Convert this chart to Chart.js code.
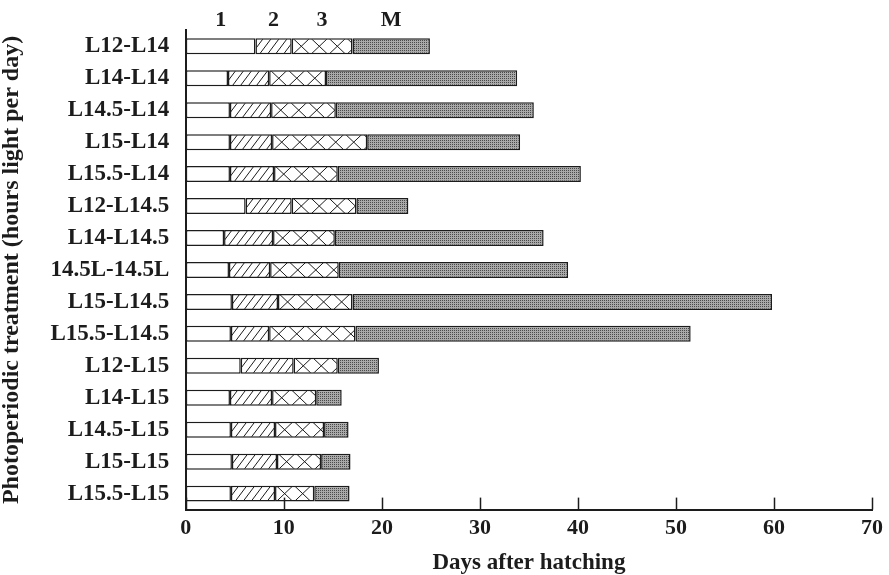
<!DOCTYPE html>
<html>
<head>
<meta charset="utf-8">
<style>
  html, body { margin: 0; padding: 0; background: #fff; }
  #wrap { width: 889px; height: 575px; }
</style>
<script src="https://cdn.jsdelivr.net/npm/chart.js@4/dist/chart.umd.min.js"></script>
</head>
<body>
<div id="wrap"><canvas id="chart" width="889" height="575"></canvas></div>
<script>
// Photoperiodic treatments (hours of light per day before - after transfer)
const treatments = [
  'L12-L14', 'L14-L14', 'L14.5-L14', 'L15-L14', 'L15.5-L14',
  'L12-L14.5', 'L14-L14.5', '14.5L-14.5L', 'L15-L14.5', 'L15.5-L14.5',
  'L12-L15', 'L14-L15', 'L14.5-L15', 'L15-L15', 'L15.5-L15'
];

// Duration (days) of each developmental stage
const instar1 = [7.1, 4.3, 4.5, 4.5, 4.5, 6.1, 3.9, 4.4, 4.7, 4.6, 5.6, 4.5, 4.6, 4.7, 4.6];
const instar2 = [3.7, 4.2, 4.2, 4.3, 4.5, 4.7, 5.0, 4.2, 4.7, 3.9, 5.4, 4.3, 4.5, 4.6, 4.5];
const instar3 = [6.2, 5.8, 6.6, 9.7, 6.5, 6.6, 6.3, 7.0, 7.6, 8.8, 4.5, 4.5, 5.0, 4.5, 4.0];
const stageM  = [7.9, 19.5, 20.2, 15.6, 24.8, 5.3, 21.3, 23.4, 42.8, 34.2, 4.2, 2.6, 2.5, 3.0, 3.6];

const stageNames = ['1', '2', '3', 'M'];
const xTicks = [0, 10, 20, 30, 40, 50, 60, 70];

const INK = '#1c1c1c';
const SERIF = "'Liberation Serif', 'DejaVu Serif', serif";

// Fine grey stipple used for the M stage
function stipple() {
  const c = document.createElement('canvas');
  c.width = 2; c.height = 2;
  const g = c.getContext('2d');
  g.fillStyle = '#a9a9a9'; g.fillRect(0, 0, 2, 2);
  g.fillStyle = '#4a4a4a'; g.fillRect(0, 0, 1, 1);
  return g.createPattern(c, 'repeat');
}

// Draws hatching inside bars of datasets flagged with `hatch`
const hatchPlugin = {
  id: 'hatch',
  afterDatasetsDraw(chart) {
    const ctx = chart.ctx;
    chart.data.datasets.forEach((ds, di) => {
      if (!ds.hatch) return;
      const meta = chart.getDatasetMeta(di);
      meta.data.forEach(bar => {
        const x0 = Math.min(bar.base, bar.x), x1 = Math.max(bar.base, bar.x);
        const y0 = bar.y - bar.height / 2, y1 = bar.y + bar.height / 2;
        const inset = 1;
        ctx.save();
        ctx.beginPath();
        ctx.rect(x0 + inset, y0 + inset, x1 - x0 - 2 * inset, y1 - y0 - 2 * inset);
        ctx.clip();
        ctx.strokeStyle = INK;
        ctx.lineWidth = 1;
        const h = y1 - y0;
        if (ds.hatch === 'diag') {
          const step = 8, run = h * 0.75;
          for (let x = x0 - run; x < x1 + step; x += step) {
            ctx.beginPath();
            ctx.moveTo(x, y1);
            ctx.lineTo(x + run, y0);
            ctx.stroke();
          }
        } else if (ds.hatch === 'cross') {
          const step = 18, run = h * 1.05;
          for (let x = x0 - run; x < x1 + step; x += step) {
            ctx.beginPath();
            ctx.moveTo(x, y1); ctx.lineTo(x + run, y0);
            ctx.moveTo(x, y0); ctx.lineTo(x + run, y1);
            ctx.stroke();
          }
        }
        ctx.restore();
      });
    });
  }
};

// Stage labels centred above the segments of the first bar
const stageLabelPlugin = {
  id: 'stageLabels',
  afterDraw(chart) {
    const ctx = chart.ctx;
    ctx.save();
    ctx.font = 'bold 22px ' + SERIF;
    ctx.fillStyle = INK;
    ctx.textAlign = 'center';
    ctx.textBaseline = 'middle';
    chart.data.datasets.forEach((ds, di) => {
      const bar = chart.getDatasetMeta(di).data[0];
      ctx.fillText(ds.label, (bar.base + bar.x) / 2, chart.chartArea.top - 10);
    });
    ctx.restore();
  }
};

// Inward tick marks on the day axis
const innerTicksPlugin = {
  id: 'innerTicks',
  afterDraw(chart) {
    const ctx = chart.ctx, sx = chart.scales.x, bottom = chart.chartArea.bottom;
    ctx.save();
    ctx.strokeStyle = INK;
    ctx.lineWidth = 1.5;
    xTicks.forEach(v => {
      const px = Math.round(sx.getPixelForValue(v)) + 0.5;
      ctx.beginPath();
      ctx.moveTo(px, bottom);
      ctx.lineTo(px, bottom - 12);
      ctx.stroke();
    });
    ctx.restore();
  }
};

const barStyle = {
  borderColor: INK,
  borderWidth: 1.5,
  borderSkipped: false,
  barPercentage: 0.5,
  categoryPercentage: 1.0
};

new Chart(document.getElementById('chart'), {
  type: 'bar',
  data: {
    labels: treatments,
    datasets: [
      Object.assign({ label: stageNames[0], data: instar1, backgroundColor: '#ffffff' }, barStyle),
      Object.assign({ label: stageNames[1], data: instar2, backgroundColor: '#ffffff', hatch: 'diag' }, barStyle),
      Object.assign({ label: stageNames[2], data: instar3, backgroundColor: '#ffffff', hatch: 'cross' }, barStyle),
      Object.assign({ label: stageNames[3], data: stageM, backgroundColor: stipple() }, barStyle)
    ]
  },
  options: {
    indexAxis: 'y',
    responsive: false,
    animation: false,
    layout: { padding: { top: 25, right: 0, left: 0, bottom: 0 } },
    plugins: {
      legend: { display: false },
      tooltip: { enabled: false }
    },
    scales: {
      x: {
        stacked: true,
        min: 0,
        max: 70,
        afterBuildTicks(scale) { scale.ticks = xTicks.map(v => ({ value: v })); },
        grid: { display: false, drawTicks: false },
        border: { display: true, color: INK, width: 2 },
        ticks: {
          color: INK,
          padding: 6,
          maxRotation: 0,
          font: { family: SERIF, size: 22, weight: 'bold' }
        },
        title: {
          display: true,
          text: 'Days after hatching',
          color: INK,
          padding: { top: 4, bottom: 0 },
          font: { family: SERIF, size: 23, weight: 'bold', lineHeight: 1 }
        }
      },
      y: {
        stacked: true,
        grid: { display: false, drawTicks: false },
        border: { display: true, color: INK, width: 2 },
        ticks: {
          color: INK,
          padding: 16.5,
          font: { family: SERIF, size: 23, weight: 'bold' }
        },
        title: {
          display: true,
          text: 'Photoperiodic treatment (hours light per day)',
          color: INK,
          padding: { top: 0, bottom: 10 },
          font: { family: SERIF, size: 24, weight: 'bold', lineHeight: 1 }
        }
      }
    }
  },
  plugins: [hatchPlugin, stageLabelPlugin, innerTicksPlugin]
});
</script>
</body>
</html>
